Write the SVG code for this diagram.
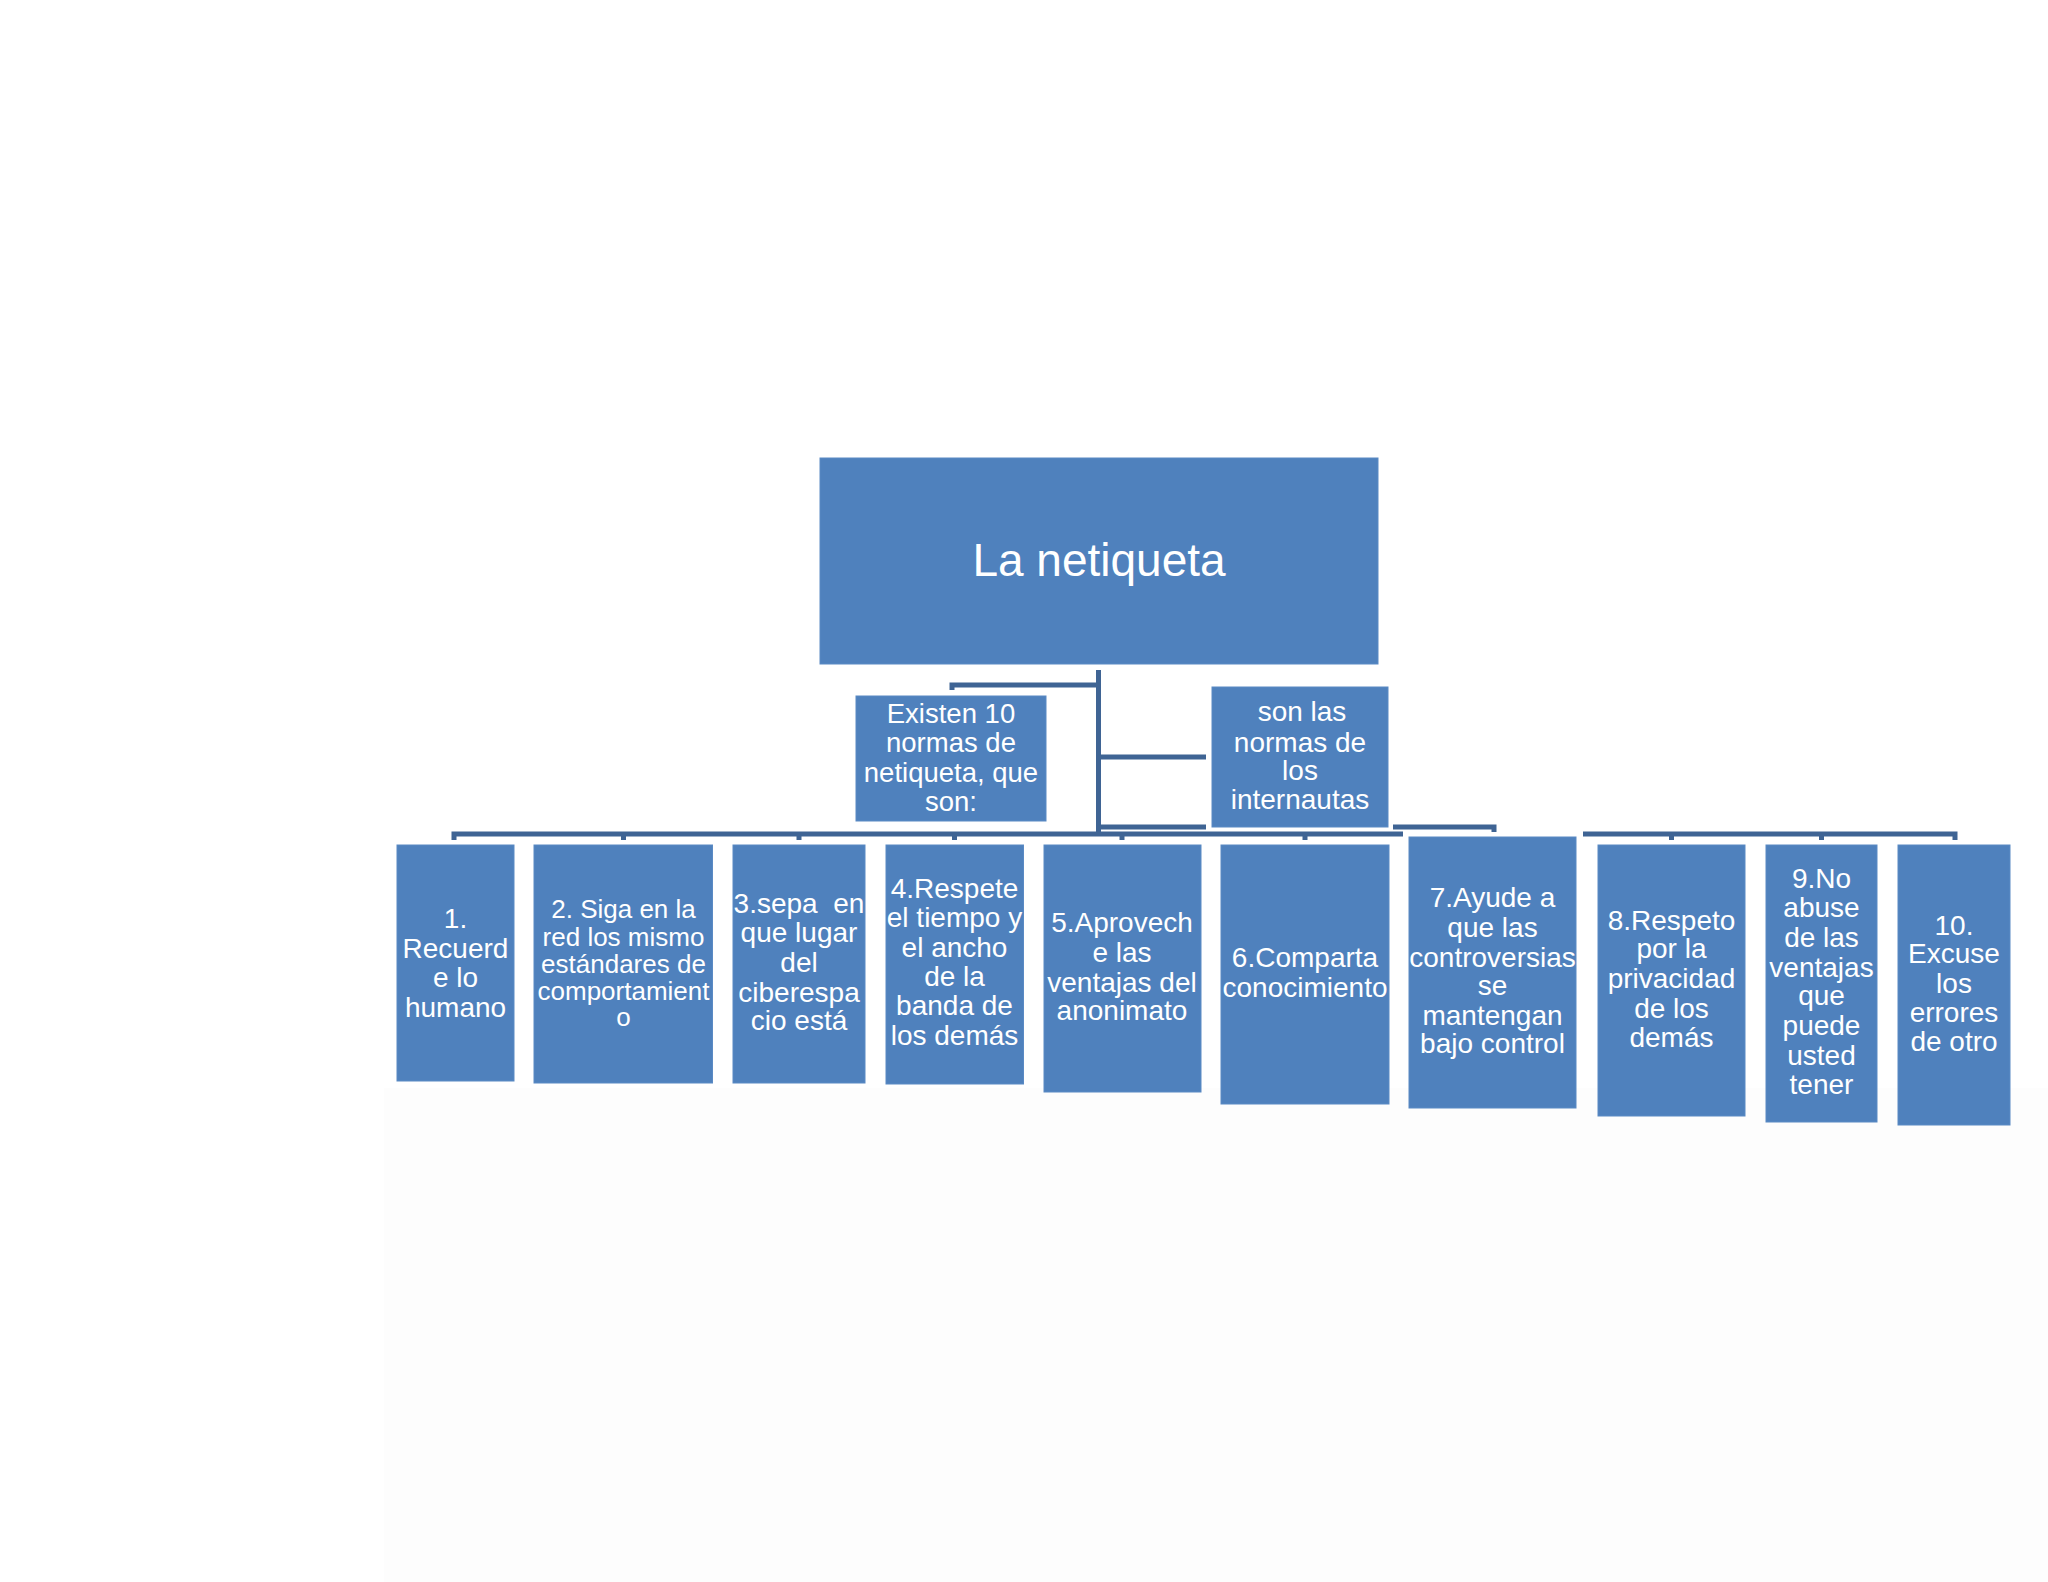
<svg xmlns="http://www.w3.org/2000/svg" width="2048" height="1582" viewBox="0 0 2048 1582">
<style>
.box{fill:#4f81bd;stroke:#5a8ac4;stroke-width:1}
.t{font-family:"Liberation Sans",Arial,sans-serif;fill:#ffffff;text-anchor:middle}
.c{fill:none;stroke:#3f6494;stroke-width:5;stroke-linejoin:miter;stroke-linecap:butt}
</style>
<rect x="0" y="0" width="2048" height="1582" fill="#ffffff"/>
<rect x="384" y="1088" width="1664" height="494" fill="#fdfdfd"/>
<g id="connectors">
<path class="c" d="M1098.5 670 V836"/>
<path class="c" d="M1098.5 685 H952 V690"/>
<path class="c" d="M1098.5 757 H1206"/>
<path class="c" d="M1098.5 827 H1206"/>
<path class="c" d="M1393 827 H1494 V832"/>
<path class="c" d="M454 840 V834 H1403"/>
<path class="c" d="M623.5 834 V840 M799 834 V840 M954.5 834 V840 M1122 834 V840 M1305 834 V840"/>
<path class="c" d="M1583 834 H1955 V840"/>
<path class="c" d="M1671.5 834 V840 M1821.5 834 V840"/>
</g>
<g id="root">
<rect class="box" x="820" y="458" width="558" height="206"/>
<text class="t" x="1099" y="576" font-size="46">La netiqueta</text>
</g>
<g id="existen">
<rect class="box" x="856" y="696" width="190" height="125"/>
<text class="t" font-size="27.5"><tspan x="951" y="723">Existen 10</tspan><tspan x="951" y="752">normas de</tspan><tspan x="951" y="782">netiqueta, que</tspan><tspan x="951" y="811">son:</tspan></text>
</g>
<g id="sonlas">
<rect class="box" x="1212" y="687" width="176" height="140"/>
<text class="t" font-size="28"><tspan x="1302" y="721">son las</tspan><tspan x="1300" y="752">normas de</tspan><tspan x="1300" y="780">los</tspan><tspan x="1300" y="809">internautas</tspan></text>
</g>
<g id="n1">
<rect class="box" x="397" y="845" width="117" height="236"/>
<text class="t" font-size="28"><tspan x="455.5" y="928">1.</tspan><tspan x="455.5" y="958">Recuerd</tspan><tspan x="455.5" y="987">e lo</tspan><tspan x="455.5" y="1017">humano</tspan></text>
</g>
<g id="n2">
<rect class="box" x="534" y="845" width="178.5" height="238"/>
<text class="t" font-size="26"><tspan x="623.5" y="918">2. Siga en la</tspan><tspan x="623.5" y="946">red los mismo</tspan><tspan x="623.5" y="973">estándares de</tspan><tspan x="623.5" y="1000">comportamient</tspan><tspan x="623.5" y="1026">o</tspan></text>
</g>
<g id="n3">
<rect class="box" x="733" y="845" width="132" height="238"/>
<text class="t" font-size="28" xml:space="preserve"><tspan x="799" y="913">3.sepa  en</tspan><tspan x="799" y="942">que lugar</tspan><tspan x="799" y="972">del</tspan><tspan x="799" y="1002">ciberespa</tspan><tspan x="799" y="1030">cio está</tspan></text>
</g>
<g id="n4">
<rect class="box" x="886" y="845" width="137.5" height="239"/>
<text class="t" font-size="28"><tspan x="954.5" y="898">4.Respete</tspan><tspan x="954.5" y="927">el tiempo y</tspan><tspan x="954.5" y="957">el ancho</tspan><tspan x="954.5" y="986">de la</tspan><tspan x="954.5" y="1015">banda de</tspan><tspan x="954.5" y="1045">los demás</tspan></text>
</g>
<g id="n5">
<rect class="box" x="1044" y="845" width="157" height="247"/>
<text class="t" font-size="28"><tspan x="1122" y="932">5.Aprovech</tspan><tspan x="1122" y="962">e las</tspan><tspan x="1122" y="992">ventajas del</tspan><tspan x="1122" y="1020">anonimato</tspan></text>
</g>
<g id="n6">
<rect class="box" x="1221" y="845" width="168" height="259"/>
<text class="t" font-size="28"><tspan x="1305" y="967">6.Comparta</tspan><tspan x="1305" y="997">conocimiento</tspan></text>
</g>
<g id="n7">
<rect class="box" x="1409" y="837" width="167" height="271"/>
<text class="t" font-size="28"><tspan x="1492.5" y="907">7.Ayude a</tspan><tspan x="1492.5" y="937">que las</tspan><tspan x="1492.5" y="967">controversias</tspan><tspan x="1492.5" y="995">se</tspan><tspan x="1492.5" y="1025">mantengan</tspan><tspan x="1492.5" y="1053">bajo control</tspan></text>
</g>
<g id="n8">
<rect class="box" x="1598" y="845" width="147" height="271"/>
<text class="t" font-size="28"><tspan x="1671.5" y="930">8.Respeto</tspan><tspan x="1671.5" y="958">por la</tspan><tspan x="1671.5" y="988">privacidad</tspan><tspan x="1671.5" y="1018">de los</tspan><tspan x="1671.5" y="1047">demás</tspan></text>
</g>
<g id="n9">
<rect class="box" x="1766" y="845" width="111" height="277"/>
<text class="t" font-size="28"><tspan x="1821.5" y="888">9.No</tspan><tspan x="1821.5" y="917">abuse</tspan><tspan x="1821.5" y="947">de las</tspan><tspan x="1821.5" y="977">ventajas</tspan><tspan x="1821.5" y="1005">que</tspan><tspan x="1821.5" y="1035">puede</tspan><tspan x="1821.5" y="1065">usted</tspan><tspan x="1821.5" y="1094">tener</tspan></text>
</g>
<g id="n10">
<rect class="box" x="1898" y="845" width="112" height="280"/>
<text class="t" font-size="28"><tspan x="1954" y="935">10.</tspan><tspan x="1954" y="963">Excuse</tspan><tspan x="1954" y="993">los</tspan><tspan x="1954" y="1022">errores</tspan><tspan x="1954" y="1051">de otro</tspan></text>
</g>
</svg>
